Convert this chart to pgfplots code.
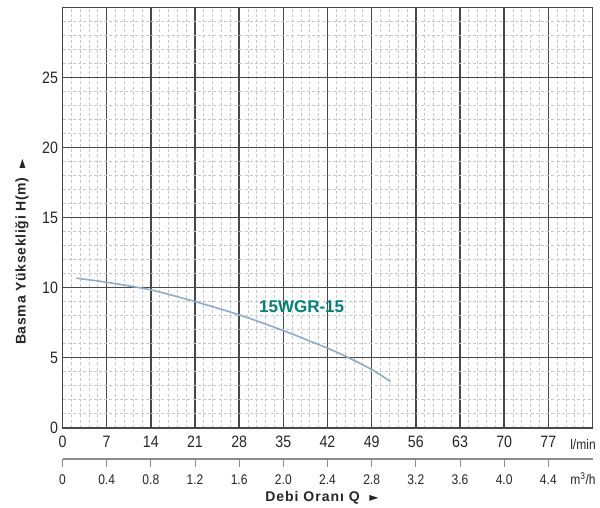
\documentclass[border=0pt]{standalone}
\usepackage{pgfplots}
\pgfplotsset{compat=1.18}
\usepackage{fontspec}
\setmainfont{Liberation Sans}
\newfontfamily\narrow[FakeStretch=0.86]{Liberation Sans}
\newfontfamily\symb{DejaVu Sans}
\definecolor{majgrid}{RGB}{72,72,72}
\definecolor{mingrid}{RGB}{200,200,200}
\definecolor{curve}{RGB}{140,172,205}
\definecolor{lbl}{RGB}{0,130,125}
\begin{document}
\begin{tikzpicture}[x=1pt,y=1pt]
\path[use as bounding box] (0,0) rectangle (600,507);
\begin{axis}[
  at={(62.5pt,79.3pt)}, anchor=south west,
  scale only axis, width=530pt, height=420.4pt,
  xmin=0, xmax=84, ymin=0, ymax=30,
  xtick={0,7,...,84},
  xticklabels={0,7,14,21,28,35,42,49,56,63,70,77,{}},
  ytick={0,5,...,30},
  yticklabels={0,5,10,15,20,25,{}},
  minor x tick num=4, minor y tick num=4,
  grid=both,
  major grid style={majgrid, line width=1.5pt},
  minor grid style={mingrid, line width=0.7pt, dash pattern=on 3pt off 2.2pt},
  axis line style={majgrid, line width=1.6pt},
  major tick length=0pt, minor tick length=0pt,
  tick style={draw=none},
  tick label style={font=\narrow\fontsize{16.5}{16.5}\selectfont, text=black!85},
  xticklabel style={yshift=-5pt},
  yticklabel style={xshift=-1pt},
  clip=false,
]
\addplot[smooth, curve, line width=1.6pt] coordinates {
(2.2,10.67) (7,10.38) (14,9.83) (21,9.0) (28,8.05) (35,6.93) (42,5.67) (45,5.07) (49,4.15) (52,3.29)
};
\node[font=\bfseries\fontsize{17}{17}\selectfont, text=lbl] at (axis cs:37.9,8.64) {15WGR-15};
\end{axis}
% secondary m3/h scale
\draw[black!45, line width=1.1pt] (62.5,48) -- (592.5,48);
\foreach \i/\l in {0/0,1/0.4,2/0.8,3/1.2,4/1.6,5/2.0,6/2.4,7/2.8,8/3.2,9/3.6,10/4.0,11/4.4}{
  \draw[black!45, line width=1pt] ({62.5+\i*44.1667},48) -- ({62.5+\i*44.1667},40);
  \node[font=\narrow\fontsize{14}{14}\selectfont, text=black!85, inner sep=1pt] at ({62.5+\i*44.1667},27.5) {\l};
}
\node[font=\narrow\fontsize{14}{14}\selectfont, text=black!85] at (583,62.5) {l/min};
\node[font=\narrow\fontsize{14}{14}\selectfont, text=black!85, inner sep=1pt] at (583,28) {m\textsuperscript{3}/h};
\node[font=\bfseries\fontsize{14}{14}\selectfont, text=black!85, inner sep=0pt] at (322,9.5) {\addfontfeature{LetterSpace=7}Debi Oranı Q\ \ {\symb\fontsize{12}{12}\selectfont ►}};
\node[rotate=90, font=\bfseries\fontsize{14}{14}\selectfont, text=black!85] at (22,255) {\addfontfeature{LetterSpace=5}Basma Yüksekliği H(m)\ \ {\symb\fontsize{12}{12}\selectfont ►}};
\end{tikzpicture}
\end{document}
